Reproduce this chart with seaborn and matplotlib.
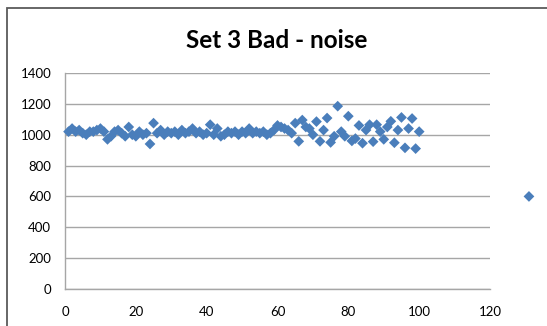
import numpy as np
import pandas as pd
import matplotlib
matplotlib.use("Agg")
import matplotlib.pyplot as plt
import seaborn as sns
from matplotlib.patches import Rectangle

# ---- data ----
x_main = list(range(1, 101))
y_main = [
    1020, 1040, 1020, 1030, 1010, 1000, 1020, 1020, 1030, 1040,
    1020, 970, 990, 1020, 1030, 1010, 990, 1050, 1000, 990,
    1020, 1000, 1010, 940, 1075, 1010, 1030, 1000, 1020, 1010,
    1020, 1000, 1030, 1010, 1020, 1040, 1010, 1020, 1000, 1010,
    1065, 1000, 1040, 990, 1000, 1020, 1010, 1020, 1000, 1020,
    1010, 1040, 1010, 1020, 1010, 1020, 1000, 1010, 1030, 1060,
    1050, 1040, 1030, 1010, 1075, 957, 1095, 1050, 1040, 1000,
    1085, 957, 1030, 1108, 950, 990, 1185, 1020, 990, 1120,
    960, 975, 1060, 945, 1030, 1065, 955, 1065, 1020, 970,
    1050, 1087, 948, 1030, 1112, 915, 1040, 1105, 910, 1020,
]
x_outlier = [131]
y_outlier = [600]

x_ticks = [0, 20, 40, 60, 80, 100, 120]
y_ticks = [0, 200, 400, 600, 800, 1000, 1200, 1400]
title = "Set 3 Bad - noise"

df = pd.DataFrame({"x": x_main + x_outlier, "y": y_main + y_outlier})

sns.set_style("white")
plt.rcParams["font.family"] = ["Lato", "DejaVu Sans"]

W, H = 547, 326
fig = plt.figure(figsize=(W / 100, H / 100), dpi=100)

# chart area border (extends past right and bottom edges)
fig.patches.append(Rectangle((7 / W, -0.05), 1.2, 1 - 8 / H + 0.05,
                             transform=fig.transFigure, fill=False,
                             edgecolor="#5a5a5a", linewidth=1.3, zorder=0))

ax = fig.add_axes([65 / W, (H - 289) / H, (490 - 65) / W, (289 - 73) / H])

color = "#4A7EBB"
sns.scatterplot(data=df, x="x", y="y", ax=ax, marker="D", s=30,
                color=color, edgecolor="none", linewidth=0, clip_on=False,
                zorder=3)

ax.set_xlim(0, 120)
ax.set_ylim(0, 1400)
ax.set_xticks(x_ticks)
ax.set_yticks(y_ticks)
ax.set_xlabel("")
ax.set_ylabel("")

grid_c = "#a6a6a6"
ax.yaxis.grid(True, color=grid_c, linewidth=1.0)
ax.xaxis.grid(False)
ax.set_axisbelow(True)
for side in ["top", "right"]:
    ax.spines[side].set_visible(False)
for side in ["left", "bottom"]:
    ax.spines[side].set_color(grid_c)
    ax.spines[side].set_linewidth(1.0)

ax.tick_params(axis="both", direction="out", length=4, width=1.0,
               color=grid_c, labelsize=9.5, labelcolor="#000000")
ax.tick_params(axis="x", pad=8)
ax.tick_params(axis="y", pad=6)

fig.text(277 / W, 1 - 40 / H, title, ha="center", va="center",
         fontsize=17.5, fontweight="bold", color="#000000")

fig.savefig("out.png", dpi=100)
